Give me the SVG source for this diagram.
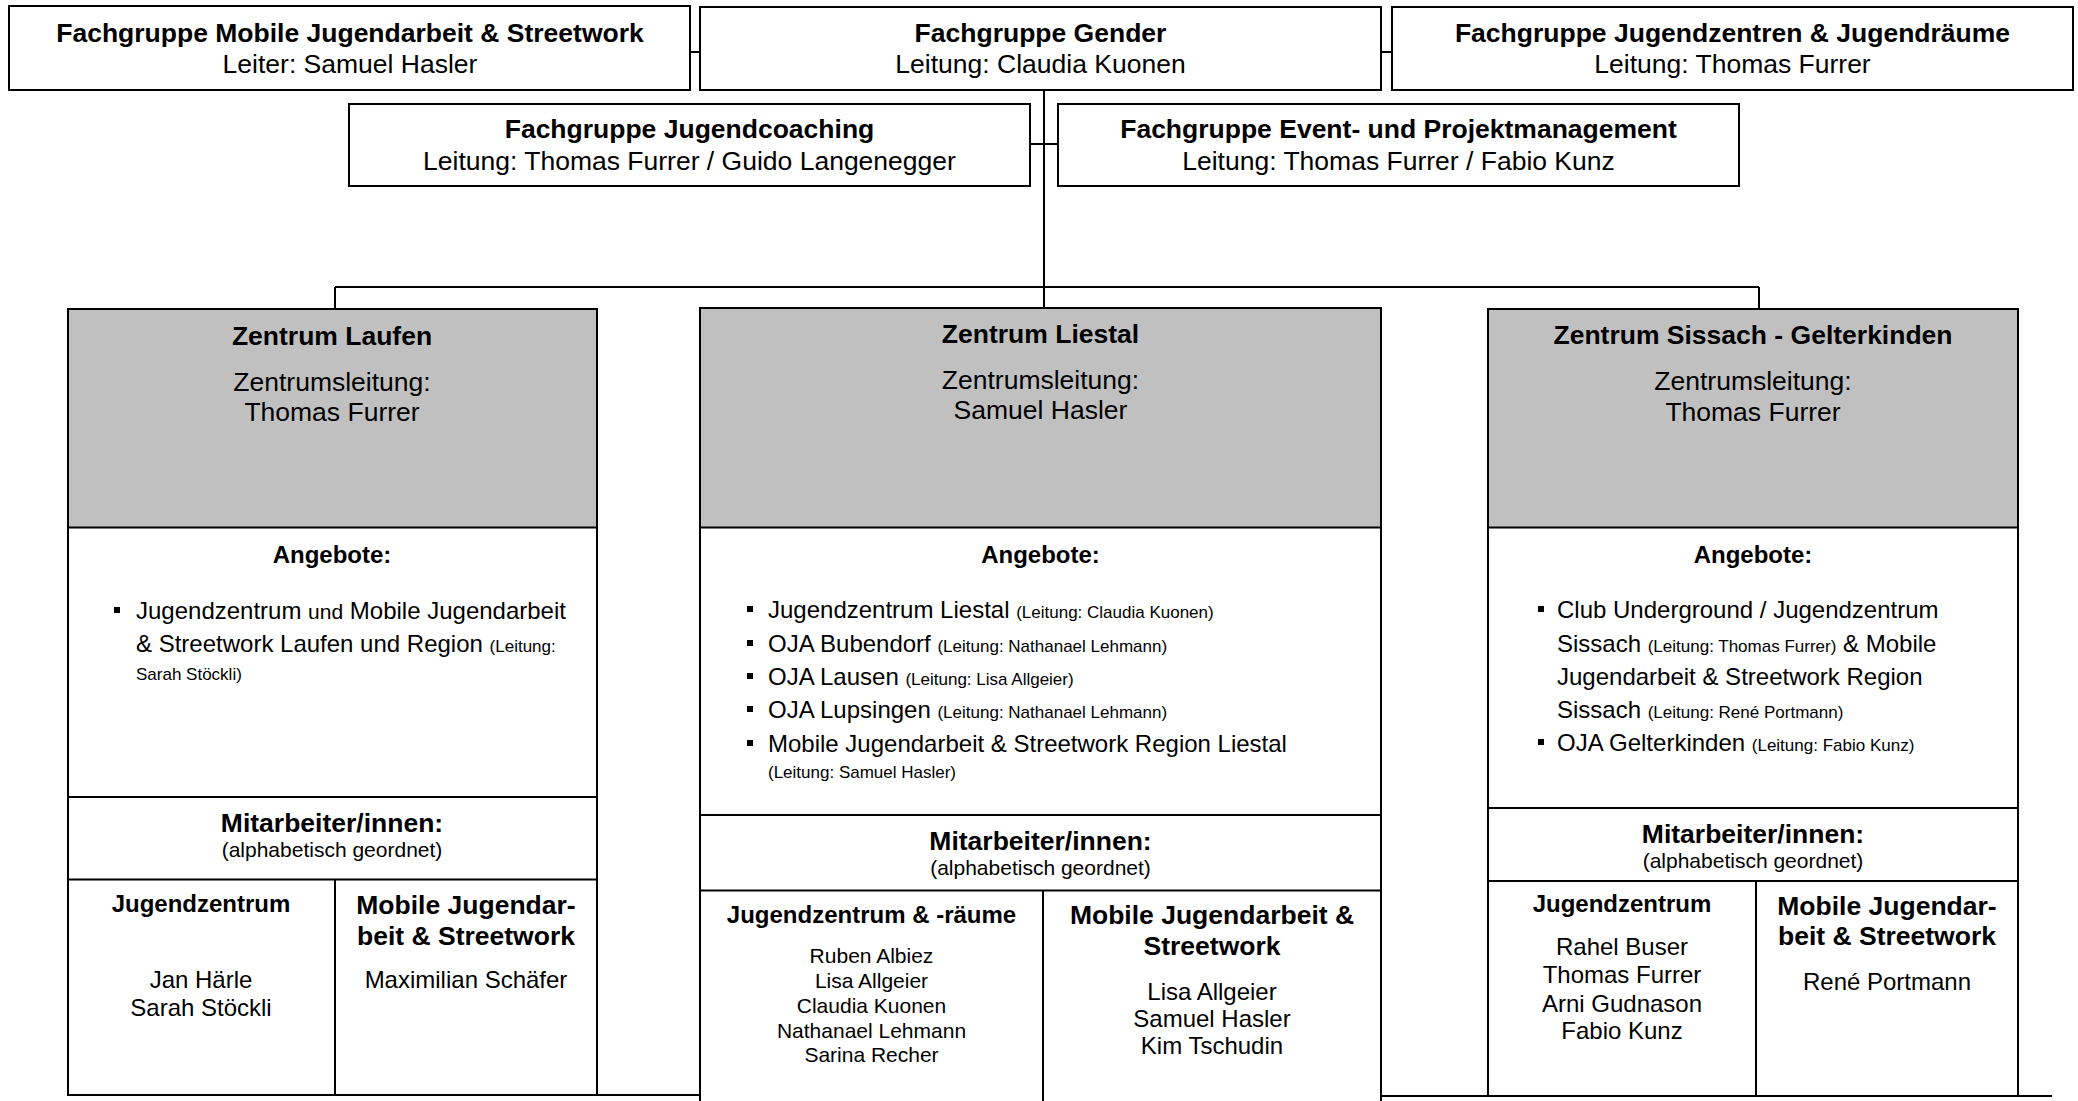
<svg xmlns="http://www.w3.org/2000/svg" width="2078" height="1101" viewBox="0 0 2078 1101">
<style>
text{font-family:"Liberation Sans",Arial,Helvetica,sans-serif;fill:#000}
.c{text-anchor:middle}
.b{font-weight:bold}
.h{font-size:26.5px}
.m{font-size:24px}
.n{font-size:21px}
.s{font-size:17px}
.box{fill:#fff;stroke:#000;stroke-width:2}
.gray{fill:#c0c0c0;stroke:#000;stroke-width:2}
.ln{stroke:#000;stroke-width:2;fill:none}
</style>
<rect width="2078" height="1101" fill="#fff"/>

<g id="connectors" class="ln">
<line x1="690" y1="52" x2="700" y2="52"/>
<line x1="1381" y1="52" x2="1392" y2="52"/>
<line x1="1044" y1="90" x2="1044" y2="308"/>
<line x1="1029" y1="144" x2="1059" y2="144"/>
<line x1="335" y1="287" x2="1759" y2="287"/>
<line x1="335" y1="287" x2="335" y2="309"/>
<line x1="1759" y1="287" x2="1759" y2="309"/>
<line x1="597" y1="1095" x2="700" y2="1095"/>
<line x1="1381" y1="1096" x2="2052" y2="1096"/>
</g>

<g id="fg-mobile">
<rect class="box" x="9" y="6" width="681" height="84"/>
<text class="c h b" x="350" y="42">Fachgruppe Mobile Jugendarbeit &amp; Streetwork</text>
<text class="c h" x="350" y="73">Leiter: Samuel Hasler</text>
</g>
<g id="fg-gender">
<rect class="box" x="700" y="7" width="681" height="83"/>
<text class="c h b" x="1040.5" y="42">Fachgruppe Gender</text>
<text class="c h" x="1040.5" y="73">Leitung: Claudia Kuonen</text>
</g>
<g id="fg-jugendzentren">
<rect class="box" x="1392" y="7" width="681" height="83"/>
<text class="c h b" x="1732.5" y="42">Fachgruppe Jugendzentren &amp; Jugendräume</text>
<text class="c h" x="1732.5" y="73">Leitung: Thomas Furrer</text>
</g>
<g id="fg-coaching">
<rect class="box" x="349" y="104" width="681" height="82"/>
<text class="c h b" x="689.5" y="138">Fachgruppe Jugendcoaching</text>
<text class="c h" x="689.5" y="170">Leitung: Thomas Furrer / Guido Langenegger</text>
</g>
<g id="fg-event">
<rect class="box" x="1058" y="104" width="681" height="82"/>
<text class="c h b" x="1398.5" y="138">Fachgruppe Event- und Projektmanagement</text>
<text class="c h" x="1398.5" y="170">Leitung: Thomas Furrer / Fabio Kunz</text>
</g>

<g id="zentrum-laufen">
<rect class="box" x="68" y="309" width="529" height="786"/>
<rect class="gray" x="68" y="309" width="529" height="218.5"/>
<line class="ln" x1="68" y1="797" x2="597" y2="797"/>
<line class="ln" x1="68" y1="879.5" x2="597" y2="879.5"/>
<line class="ln" x1="335" y1="879.5" x2="335" y2="1095"/>
<text class="c h b" x="332" y="345">Zentrum Laufen</text>
<text class="c h" x="332" y="391">Zentrumsleitung:</text>
<text class="c h" x="332" y="421">Thomas Furrer</text>
<text class="c m b" x="332" y="563">Angebote:</text>
<rect x="114" y="607" width="6" height="6"/>
<text class="m" x="136" y="619">Jugendzentrum <tspan class="n">und</tspan> Mobile Jugendarbeit</text>
<text class="m" x="136" y="652">&amp; Streetwork Laufen und Region <tspan class="s">(Leitung:</tspan></text>
<text class="s" x="136" y="680">Sarah Stöckli)</text>
<text class="c h b" x="332" y="832">Mitarbeiter/innen:</text>
<text class="c n" x="332" y="857">(alphabetisch geordnet)</text>
<text class="c m b" x="201" y="912">Jugendzentrum</text>
<text class="c m" x="201" y="988">Jan Härle</text>
<text class="c m" x="201" y="1016">Sarah Stöckli</text>
<text class="c h b" x="466" y="914">Mobile Jugendar-</text>
<text class="c h b" x="466" y="945">beit &amp; Streetwork</text>
<text class="c m" x="466" y="988">Maximilian Schäfer</text>
</g>

<g id="zentrum-liestal">
<rect class="box" x="700" y="308" width="681" height="812"/>
<rect class="gray" x="700" y="308" width="681" height="219.5"/>
<line class="ln" x1="700" y1="815" x2="1381" y2="815"/>
<line class="ln" x1="700" y1="890.5" x2="1381" y2="890.5"/>
<line class="ln" x1="1043" y1="890.5" x2="1043" y2="1110"/>
<text class="c h b" x="1040.5" y="343">Zentrum Liestal</text>
<text class="c h" x="1040.5" y="389">Zentrumsleitung:</text>
<text class="c h" x="1040.5" y="419">Samuel Hasler</text>
<text class="c m b" x="1040.5" y="563">Angebote:</text>
<rect x="747" y="606" width="6" height="6"/>
<text class="m" x="768" y="618">Jugendzentrum Liestal <tspan class="s">(Leitung: Claudia Kuonen)</tspan></text>
<rect x="747" y="640" width="6" height="6"/>
<text class="m" x="768" y="652">OJA Bubendorf <tspan class="s">(Leitung: Nathanael Lehmann)</tspan></text>
<rect x="747" y="673" width="6" height="6"/>
<text class="m" x="768" y="685">OJA Lausen <tspan class="s">(Leitung: Lisa Allgeier)</tspan></text>
<rect x="747" y="706" width="6" height="6"/>
<text class="m" x="768" y="718">OJA Lupsingen <tspan class="s">(Leitung: Nathanael Lehmann)</tspan></text>
<rect x="747" y="740" width="6" height="6"/>
<text class="m" x="768" y="752">Mobile Jugendarbeit &amp; Streetwork Region Liestal</text>
<text class="s" x="768" y="778">(Leitung: Samuel Hasler)</text>
<text class="c h b" x="1040.5" y="850">Mitarbeiter/innen:</text>
<text class="c n" x="1040.5" y="875">(alphabetisch geordnet)</text>
<text class="c m b" x="871.5" y="923">Jugendzentrum &amp; -räume</text>
<text class="c n" x="871.5" y="963">Ruben Albiez</text>
<text class="c n" x="871.5" y="988">Lisa Allgeier</text>
<text class="c n" x="871.5" y="1013">Claudia Kuonen</text>
<text class="c n" x="871.5" y="1037.5">Nathanael Lehmann</text>
<text class="c n" x="871.5" y="1062">Sarina Recher</text>
<text class="c h b" x="1212" y="924">Mobile Jugendarbeit &amp;</text>
<text class="c h b" x="1212" y="955">Streetwork</text>
<text class="c m" x="1212" y="1000">Lisa Allgeier</text>
<text class="c m" x="1212" y="1027">Samuel Hasler</text>
<text class="c m" x="1212" y="1054">Kim Tschudin</text>
</g>

<g id="zentrum-sissach">
<rect class="box" x="1488" y="309" width="530" height="787"/>
<rect class="gray" x="1488" y="309" width="530" height="218.5"/>
<line class="ln" x1="1488" y1="808" x2="2018" y2="808"/>
<line class="ln" x1="1488" y1="881" x2="2018" y2="881"/>
<line class="ln" x1="1756" y1="881" x2="1756" y2="1096"/>
<text class="c h b" x="1753" y="344">Zentrum Sissach - Gelterkinden</text>
<text class="c h" x="1753" y="390">Zentrumsleitung:</text>
<text class="c h" x="1753" y="421">Thomas Furrer</text>
<text class="c m b" x="1753" y="563">Angebote:</text>
<rect x="1538" y="606" width="6" height="6"/>
<text class="m" x="1557" y="618">Club Underground / Jugendzentrum</text>
<text class="m" x="1557" y="651.5">Sissach <tspan class="s">(Leitung: Thomas Furrer)</tspan> &amp; Mobile</text>
<text class="m" x="1557" y="684.5">Jugendarbeit &amp; Streetwork Region</text>
<text class="m" x="1557" y="717.5">Sissach <tspan class="s">(Leitung: René Portmann)</tspan></text>
<rect x="1538" y="739" width="6" height="6"/>
<text class="m" x="1557" y="750.5">OJA Gelterkinden <tspan class="s">(Leitung: Fabio Kunz)</tspan></text>
<text class="c h b" x="1753" y="843">Mitarbeiter/innen:</text>
<text class="c n" x="1753" y="868">(alphabetisch geordnet)</text>
<text class="c m b" x="1622" y="912">Jugendzentrum</text>
<text class="c m" x="1622" y="955">Rahel Buser</text>
<text class="c m" x="1622" y="983">Thomas Furrer</text>
<text class="c m" x="1622" y="1011.5">Arni Gudnason</text>
<text class="c m" x="1622" y="1038.5">Fabio Kunz</text>
<text class="c h b" x="1887" y="915">Mobile Jugendar-</text>
<text class="c h b" x="1887" y="945">beit &amp; Streetwork</text>
<text class="c m" x="1887" y="990">René Portmann</text>
</g>
</svg>
